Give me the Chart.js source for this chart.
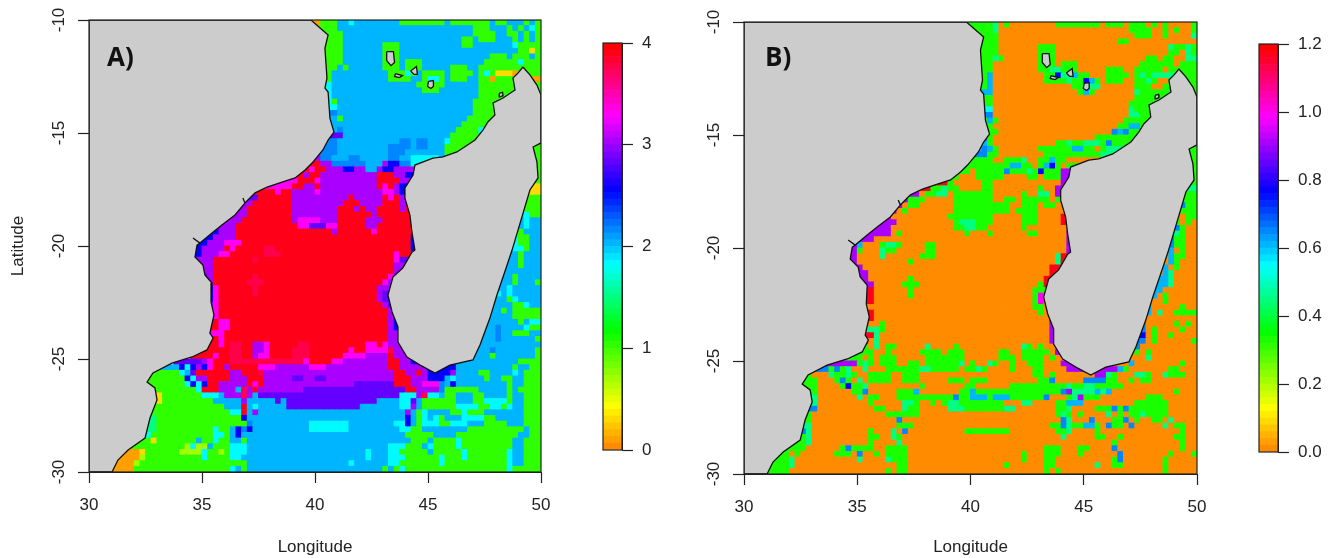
<!DOCTYPE html>
<html>
<head>
<meta charset="utf-8">
<title>Mozambique Channel maps</title>
<script src="https://cdn.jsdelivr.net/npm/chart.js@4"></script>
<style>
  html, body { margin: 0; background: #fff; width: 1330px; height: 558px; overflow: hidden; }
  canvas { position: absolute; top: 0; }
  .tag { position: absolute; font: bold 26px "Open Sans", sans-serif; color: #111; }
</style>
</head>
<body>
<canvas id="mapA" width="590" height="558" style="left:0"></canvas>
<canvas id="barA" width="75" height="558" style="left:590px"></canvas>
<canvas id="mapB" width="590" height="558" style="left:655px"></canvas>
<canvas id="barB" width="85" height="558" style="left:1245px"></canvas>
<div class="tag" style="left:107px;top:38px">A)</div>
<div class="tag" style="left:765px;top:38px">B)</div>
<script>
// Axis ticks
const lonTicks = [30, 35, 40, 45, 50];
const latTicks = [-30, -25, -20, -15, -10];

// Colour key: ramp stops and the range of each panel
const rampColors = [[255, 140, 0], [255, 255, 0], [0, 255, 0], [0, 255, 255], [0, 0, 255], [255, 0, 255], [255, 0, 0]];
const rampStops = [0, 0.10, 0.29, 0.455, 0.64, 0.825, 1];
const keyMaxA = 4;
const keyMaxB = 1.2;
const keyBins = 60;

// Value of each letter used in the rows below
const levelsA = { o: 0.1, y: 0.32, l: 0.68, g: 1.06, s: 1.5, c: 1.82, b: 2.0, d: 2.19, n: 2.56, v: 2.83, p: 3.02, m: 3.3, k: 3.74, r: 3.9 };
const levelsB = { o: 0, g: 0.33, s: 0.445, c: 0.546, b: 0.6, d: 0.656, n: 0.77, p: 0.907, m: 0.99, r: 1.17 };

// One string per 0.25 degree row, north to south. "38g" = green from column 38 until the next entry
const rowsA = [
  "38o 41g 44b 46c 47b 55g 63b 64g 71b 72g 74b 77g 78b 79g",
  "38g 44b 68g 71b 74g 75b 76g 77b 78c 79g",
  "38g 45b 68g 72b 74g 76b 77g 78b 79g",
  "38g 45b 66g 68b 69g 72b 75g 76b 77g 78b 79g",
  "38g 45b 52g 55b 66g 68b 75c 76g",
  "38g 45b 52g 55b 76g 78y 79g",
  "38g 45b 52g 55b 71g 74b 75g 78b 79g",
  "38g 45b 52g 55b 56g 59b 70g 76c 77g",
  "38g 44b 45g 46b 52g 55b 56g 59b 64g 67b 69g",
  "38g 43b 53g 56c 57g 58b 59g 63b 64g 68b 69g 70c 71g 72y 75o 76g",
  "38g 43b 53g 57b 59g 60c 62g 63b 64g 67b 69g 71o 72g 78o",
  "38g 42c 43b 58g 63b 69g",
  "38g 42c 43b 59g 62b 69g",
  "38c 43b 69g",
  "38c 43g 44b 68g",
  "38c 44b 68g",
  "38d 44b 68g",
  "38b 44g 45b 67g",
  "38b 45b 66g",
  "38b 44d 45b 65g 69c 71g",
  "38n 43v 45b 64g 69c 70g",
  "38n 42d 44b 55d 57b 58d 60b 63c 64g",
  "38d 44b 53d 57b 58d 60b 63g 79g",
  "38p 41d 44b 53d 56b 63g 79g",
  "37m 39p 41d 43b 46d 48b 53d 55b 57c 62b 79g",
  "36r 37m 39r 41p 43d 49b 52p 53n 55d 57c 79g",
  "34m 36r 39m 40r 42p 45n 47p 49b 51p 52n 54p 79g",
  "34r 38p 39r 41p 51r 54p 56n 79g",
  "32m 37r 40m 41p 51r 55p 57n 79g",
  "31m 36r 38p 40r 41p 51r 52m 53r 54p 55n 77y",
  "29r 33m 34r 36p 40m 41p 52m 54p 55n 77y",
  "28v 30r 36p 46r 47p 52r 53m 54r 55p 77g",
  "27p 29r 36p 45r 48p 52r 55p 77g",
  "26p 28r 36p 44r 47p 48r 49p 51r 55p 56r 77g",
  "25p 28r 36p 44r 50p 51r 76g 77c 78g",
  "24p 27r 36p 37m 41p 44r 49p 52r 76b 77c 78b",
  "23p 26r 37m 39v 42m 44r 49p 51r 75c 76b 77c 78b",
  "21n 23p 26r 39r 43p 44r 49r 50m 51r 75c 76g 77b",
  "20n 22p 26r 57n 75c 76g 78b",
  "19n 21p 24m 27r 57n 75c 76g 78b",
  "18n 20p 24r 25m 26r 31k 33r 57n 60b 75c 77g 78b",
  "18n 20p 23m 25r 31k 34r 54m 55r 60b 76g 77b",
  "19p 22r 29k 30r 54m 55v 60b 76g 77b",
  "19p 22r 54p 60b 75b 76g 77b",
  "20p 22r 54p 60b",
  "20v 21p 22r 29k 30r 53m 54p 60b 75g 76b",
  "20v 21p 22r 28k 31r 52m 53p 60b 75g 76b 79g",
  "20n 22m 23r 29k 30r 51p 60b 74c 75b",
  "21n 22m 23r 29k 30r 51p 52v 60b 72c 73b 74c 75b",
  "21n 22m 23r 51p 52v 60b 74g 75c 76b",
  "21p 22m 23r 52p 53v 60b 75g 77c 78b",
  "22m 23r 53p 60b 73g 74b 75g",
  "22m 23r 53p 54n 60b 75g 77g",
  "22r 23m 25r 53p 54n 60b 76g 77b 78c",
  "22r 23m 25r 53p 54n 60b 72d 73b 77c 78g",
  "22m 24r 53p 60b 72d 73b 75g 78b",
  "22r 23m 24r 53p 60b 72d 73b 79g",
  "22r 23m 24r 25k 27r 29p 31m 32r 37k 39r 49m 51r 52m 53p 60b",
  "22r 25k 27r 29p 31m 32r 36k 39r 46m 47r 49m 53k 54p 60b 71d 72b 79g",
  "21r 22m 23r 25k 27r 29p 30m 32r 36k 39r 45m 49p 53r 54p 60b 71g 72b 79g",
  "18v 20p 21m 22r 25k 38m 39r 43m 45p 53r 55p 57n 62b 76g",
  "14b 16n 17c 18n 19p 20n 21m 22r 24p 25r 30m 33p 39m 42p 53r 55p 60n 65b 75g 76b 78g",
  "12g 16c 17b 18v 19r 25p 27r 30k 31p 54r 56p 58r 59p 60n 64p 65b 69g 71b 75c 76b 77g",
  "12g 16g 17n 18c 19p 21r 25p 28r 31p 36v 38p 40v 42p 54r 57p 60n 63b 64c 65b 70g 71b 73g 75b 77g",
  "12g 17c 18n 19c 20n 21r 23p 28r 29m 30r 31p 41p 47v 54r 57p 59m 62d 63b 64n 65b 74g 75b 77g",
  "12g 19c 20r 23p 26b 27k 28p 29r 30p 38v 56r 58p 62d 63g 69b 74g 75b 76g 77g",
  "12y 13g 20c 23b 24p 27k 28p 29b 30v 55c 58p 59k 60c 62b 63g 65b 68g 70b 74g 75b 77g",
  "12y 13g 22b 27p 28b 33v 34b 35v 51b 55c 57v 58b 59g 65b 68g 70c 74g 75b 77g",
  "12g 22g 24b 27r 28b 29c 30b 35v 48b 55c 57p 58b 59g 65c 69g 71c 73g 74c 75b 77g",
  "12g 25c 27r 28b 29p 30b 56p 57b 58g 59c 60b 64g 66c 67g 70b 77g",
  "11s 12g 27n 28b 56n 57b 58g 59c 60b 61c 62g 63b 66c 70g 72b 77g",
  "11s 12g 27g 28d 29b 39c 46b 54c 56n 57b 58g 59c 62g 64c 67b 70g 74b 77g",
  "11s 12g 22c 23g 25b 26n 27d 28n 29b 39c 46b 55c 57g 59b 67g 77b 78g",
  "10c 11g 22c 24g 25b 26n 27b 56g 61b 65g 76b 78g",
  "10g 11y 12g 19b 20g 22c 23g 25b 27g 28b 57g 60b 61g 65c 66g 75b 77g",
  "9g 17l 18c 19l 21b 22g 25c 28b 53c 56g 59b 60c 61g 65c 66g 75b 77g",
  "7o 9y 10g 16l 20c 21g 23l 24g 25c 28b 49c 50b 53c 55g 60b 61g 66c 67g 74c 75b 77g",
  "6o 9l 10g 20c 21g 25c 27b 49c 50b 53c 56g 62c 63g 66c 67g 74c 75b 77g",
  "5o 8l 9g 25g 28b 46c 47b 53c 55g 62c 63g 74c 75b 77g",
  "4o 8g 25c 26b 27g 28b 52g 53b 54g 55c 56g 74c 75g"
];

const rowsB = [
  "38g 44s 45o 46g 47o 55g 63o 64g 67o 68g 71o 72g 73o 74g 75o 79g",
  "38g 44s 45o 68g 72o 74g 75o 76g 77o 79g",
  "38g 45o 69g 72o 74g 75o 79s",
  "38g 45o 66g 68o",
  "38g 45o 52g 55o 75s 76g 78s 79g",
  "38g 45o 52g 55o 75g 77o 78s 79g",
  "38g 44s 45g 46o 52g 55o 71g 73o 74g 76o 78s",
  "38g 44o 52g 55o 56g 59o 70g 76o 77g",
  "38g 44o 52g 54s 56g 59o 64g 67o 69g 74o 75g",
  "38g 43b 44o 53g 55n 56s 58b 59g 61o 64g 68o 69g 70s 71g 72s 74s 76g",
  "38g 43b 44o 53g 57s 58g 60n 61b 62g 63o 64g 67o 69g 71s 72g 73o 75g",
  "38g 43b 44o 58g 60s 63o 69g 72o 74g",
  "38b 44o 59g 60b 61g 62o 69s 70g",
  "38d 42g 44o 69g",
  "38d 42g 44o 68g",
  "38d 42c 44o 68s 69g",
  "38b 42d 44o 68s 70g",
  "38g 43b 44g 45o 67g",
  "38g 44o 66g 68b 70g",
  "38g 44g 45o 65d 66b 67d 68g",
  "38p 43g 44o 62g",
  "38d 41b 43g 44o 55g 57s 58g 60s 63g 64d 65g",
  "38b 42d 43b 44g 45o 52g 58b 60g 62o 63g 64s 78g",
  "38r 41d 43g 45o 53g 63s 78g",
  "36r 38g 44o 46g 49s 50o 52g 54b 55g 57o 78g",
  "36r 37g 47b 49g 51o 52g 53b 54n 55g 56o 57g 78g",
  "34r 38g 40o 41g 46d 47g 50s 51g 52n 53g 56p 78g",
  "36g 38o 41g 46o 50g 52o 53g 56p 78g",
  "35r 36g 37o 42g 44o 56p 78g",
  "31r 33g 35s 36g 38o 42g 44o 52g 53o 55p 77s",
  "29p 31o 32g 34s 36o 37g 44o 49g 50o 52s 54o 55p 77g",
  "28p 29g 32o 37g 44o 46g 48o 49g 54o 55g 56o 77g",
  "27p 28o 29g 31o 37g 47o 49g 52o 53g 55o 77d 78g",
  "25p 27o 28g 29o 37g 47o 48g 52o 77g",
  "24p 26o 36g 44o 49g 52o 56r 60o 76g 77o 78g",
  "24p 27o 37g 38s 41g 44o 49g 52o 56r 60o 76g 77o 78g 79o",
  "23p 26o 37g 39s 41g 43o 49g 50o 76d 77g 78o",
  "23p 26o 27g 28o 39g 40o 43g 44o 50g 52o 57p 60o 75d 76s 77g 78o",
  "21p 23o 57p 60o 75d 76g 78o",
  "19p 20b 21o 24g 25s 27g 28o 32g 34o 57p 60o 75d 76g 78o",
  "19p 20g 21o 24s 25g 27o 32g 34o 57p 60o 75b 76o 77g 78o",
  "19p 20o 24s 25o 31g 34o 55s 56r 60o 75b 76g 78o",
  "19p 20o 29g 30o 55s 56r 60o 75b 76g 77o",
  "20p 21o 54r 60o 74b 75o 76g 77o",
  "21p 22o 54r 60o 74b 75s 76o",
  "21p 22o 29g 30o 53r 55g 60o 73b 75s 76o",
  "21p 23o 28g 31o 52g 53r 60o 73b 75s 76o",
  "21p 22r 23o 29g 30o 51g 54o 72b 74o",
  "22r 23o 29g 30o 51g 52m 53o 72b 73o 74g 75o",
  "22r 23o 51g 52m 53o 71b 72o 74g 75o",
  "22o 51g 53o 71b 72o 77g 78o",
  "22r 23o 52g 53o 71b 72o 73s 74o 76g",
  "22r 23o 54p 60o",
  "22o 24g 25o 54p 60o 70d 71o 76g 77o 78g 79o",
  "23s 24g 25o 54p 60o 70d 71o 72g 73o 77g 78o",
  "22r 23s 24o 54p 60o 70n 71o 72g 73o 75g 76o",
  "21r 22o 23s 24o 54p 60o 69d 71o 72g 73o 79g",
  "21g 22o 23s 24o 25g 27o 32s 33o 37g 38o 49s 50g 51o 52g 53o 69d 70o",
  "21g 23o 25g 26o 31g 35o 36g 39o 45g 47o 49g 54o 55p 60o 69g 70o 71g 72o",
  "20g 21o 22g 23o 24g 27o 32g 39o 45g 48o 49g 53o 54g 55o 71s 72o",
  "16p 20g 21s 22g 23o 24g 27o 29g 31o 32g 38s 39o 40g 41o 43s 44g 45o 47g 48o 50g 53o 56p 62o 68b 69o 77g 78o",
  "12d 15g 16d 17g 18s 19o 21s 22o 25g 31s 33g 38o 39g 41s 42g 43o 47g 48o 51g 53o 57p 66b 67g 68o 75g 77o",
  "11g 12o 15s 16g 18s 19g 20o 22g 26o 28g 31o 51g 53o 54g 55o 62p 64s 65g 66o 69s 71g 72o 74s 75g 78o",
  "11g 13o 16g 17d 18g 19o 20s 21o 22g 26o 28g 31o 36g 39o 40g 43o 52g 54d 55o 60d 64g 66o 68g 69o 70g 72o",
  "11g 13o 17g 18n 19g 21s 22o 31g 32o 39g 41o 47g 57s 58g 60s 62g 67o",
  "12g 13o 19g 21d 22o 27g 30b 31o 38g 40b 41g 56d 57p 58s 62b 63s 64b 65o 76g 77o",
  "11d 12s 13o 20s 21o 22g 24o 27g 37d 38g 40b 43g 44b 47g 53d 54o 57g 58s 59p 60g 63o 71g 74o",
  "12s 13o 22g 23o 28s 30g 31o 33g 34o 35g 36s 38g 46o 49s 51o 55g 57b 60o 69g 75o",
  "12d 13o 23g 25o 28s 29g 31o 36s 39g 46s 48o 55g 57s 58o 62g 65d 66g 67d 68g 75o",
  "11g 12o 25g 31o 55g 56s 57g 58o 59g 60o 64s 65o 66g 67o 68g 70s 71g 75o",
  "11g 12o 27d 28o 56d 57s 58o 61d 62o 65g 67d 68o 69g 70o 72g 74o 75s 76o",
  "11s 12o 27g 30o 54g 56d 57s 58g 60b 62g 63o 64d 65g 67o 68d 69o 74s 75o 76g 78o",
  "10d 11s 12o 22g 23o 26s 27o 28d 29o 39g 47o 55g 57s 58o 62g 63o 77g 78o",
  "10g 11s 12o 22g 24o 26s 27g 28o 56s 57o 62g 64o 66g 67o 76g 78o",
  "10g 11s 12o 22g 23o 27s 28o 65g 66o 77g 78o",
  "9g 11o 17g 18d 19g 23o 25g 29o 53g 56o 59g 61o 65d 66o 77g 78o",
  "7g 8o 9g 10o 16g 19o 20d 21o 23g 24o 25g 29o 49g 50o 53g 56o 59g 60o 66d 67o 75g 76o 79g",
  "6g 8s 9o 20s 21o 25s 26g 29o 49g 50o 53g 55o 65g 66d 67o 74g 75o",
  "5g 8s 9o 27g 29o 46g 47o 53g 55o 62s 63o 65g 67o 74g 75o",
  "4g 8o 25g 26o 27g 29o 53g 54o 55g 56o 74g 75o"
];

// Coastlines as [lon, lat]
const africaCoast = [[39.82,-10],[40.58,-10.66],[40.44,-11.24],[40.53,-12.57],[40.44,-13.01],[40.58,-13.19],[40.66,-14.34],[40.84,-14.96],[40.58,-15.31],[40.35,-15.75],[39.87,-16.33],[39.56,-16.64],[39.12,-16.99],[38.54,-17.17],[37.88,-17.39],[37.35,-17.65],[36.9,-18.1],[36.81,-17.88],[36.9,-18.1],[36.46,-18.63],[35.88,-19.07],[35.44,-19.42],[34.91,-19.87],[34.6,-19.65],[34.91,-19.87],[34.78,-19.96],[34.69,-20.49],[35.04,-20.84],[35.13,-21.28],[35.44,-21.64],[35.4,-22.48],[35.53,-23.05],[35.35,-23.85],[35.49,-24.07],[35.22,-24.6],[34.56,-24.91],[33.67,-25.18],[32.83,-25.62],[32.57,-26.02],[32.92,-26.28],[33.01,-26.81],[32.7,-27.61],[32.48,-28.5],[31.73,-29.03],[31.28,-29.47],[31.02,-30],[30,-30],[30,-10],[39.82,-10]];
const madagascarCoast = [[49.2,-12.08],[48.98,-12.35],[48.76,-12.57],[48.85,-13.1],[48.32,-13.45],[47.88,-13.67],[47.96,-14.2],[47.65,-14.51],[47.43,-14.87],[47.08,-15.31],[46.28,-15.84],[45.66,-16.06],[45.22,-16.11],[44.42,-16.42],[44.34,-16.86],[43.98,-17.43],[43.98,-17.88],[44.2,-18.63],[44.29,-19.38],[44.42,-20.18],[44.29,-20.27],[43.89,-20.97],[43.45,-21.37],[43.23,-22.17],[43.41,-22.92],[43.67,-23.58],[43.67,-24.25],[44.07,-24.91],[44.65,-25.27],[45.31,-25.62],[45.97,-25.27],[46.99,-25.04],[47.3,-24.38],[47.74,-23.19],[48.05,-22.17],[48.5,-20.84],[48.72,-20.18],[49.51,-17.52],[49.87,-16.99],[49.82,-16.28],[49.65,-15.62],[50,-15.44],[50,-13.32],[49.82,-12.88],[49.51,-12.43],[49.2,-12.08]];
const grandeComore = [[43.17,-11.4],[43.47,-11.4],[43.52,-11.88],[43.36,-12.02],[43.17,-11.79],[43.17,-11.4]];
const moheli = [[43.56,-12.37],[43.87,-12.46],[43.74,-12.55],[43.52,-12.5],[43.56,-12.37]];
const anjouan = [[44.23,-12.26],[44.49,-12.06],[44.53,-12.41],[44.38,-12.41],[44.23,-12.26]];
const mayotte = [[45.02,-12.72],[45.24,-12.68],[45.24,-12.94],[45.13,-13.03],[44.98,-12.94],[45.02,-12.72]];
const nosyBe = [[48.15,-13.25],[48.3,-13.2],[48.32,-13.35],[48.18,-13.4],[48.15,-13.25]];
const landShapes = [africaCoast, madagascarCoast, grandeComore, moheli, anjouan, mayotte, nosyBe];

const inkColor = '#222';
const axisFont = { family: '"Liberation Sans", Arial, sans-serif', size: 17 };

function rampColor(frac) {
    let i = 0;
    while (i < rampStops.length - 2 && frac > rampStops[i + 1]) i++;
    const t = (frac - rampStops[i]) / (rampStops[i + 1] - rampStops[i]);
    const a = rampColors[i], b = rampColors[i + 1];
    const mix = k => Math.round(a[k] + (b[k] - a[k]) * t);
    return `rgb(${mix(0)},${mix(1)},${mix(2)})`;
}

function binColor(value, max) {
    const bin = Math.min(keyBins - 1, Math.floor(value / max * keyBins));
    return rampColor(bin / (keyBins - 1));
}

// Expand the rows into one point per ocean cell.
// The first run of a row starts a few columns early, those cells sit under the land fill
function rowsToCells(rows, levels) {
    const cells = [];
    rows.forEach((row, r) => {
        const tokens = row.split(' ').map(t => [parseInt(t, 10), levels[t.slice(-1)]]);
        tokens.forEach((tok, i) => {
            const start = i === 0 ? Math.max(0, tok[0] - 3) : tok[0];
            const end = i + 1 < tokens.length ? tokens[i + 1][0] : 80;
            for (let c = start; c < end; c++) {
                cells.push({ x: 30 + (c + 0.5) * 0.25, y: -10 - (r + 0.5) * 0.25, v: tok[1] });
            }
        });
    });
    return cells;
}

function drawFrame(chart) {
    const { ctx, chartArea: a } = chart;
    ctx.save();
    ctx.strokeStyle = inkColor;
    ctx.lineWidth = 1.2;
    ctx.strokeRect(a.left, a.top, a.right - a.left, a.bottom - a.top);
    ctx.restore();
}

function makeMap(id, rows, levels, max, frame, latitudeTitle) {
    const land = landShapes.map(shape => ({
        data: shape.map(p => ({ x: p[0], y: p[1] })),
        showLine: true,
        fill: 'shape',
        backgroundColor: '#cccccc',
        borderColor: '#111',
        borderWidth: 1.3,
        tension: 0,
        pointRadius: 0,
        clip: 0
    }));
    const cells = {
        data: rowsToCells(rows, levels),
        pointStyle: 'rect',
        pointRadius: 4.6,
        pointBorderWidth: 0,
        pointBackgroundColor: c => binColor(c.raw.v, max),
        clip: 0
    };
    return new Chart(document.getElementById(id), {
        type: 'scatter',
        data: { datasets: [...land, cells] },
        options: {
            responsive: false,
            animation: false,
            events: [],
            layout: { padding: { left: 0, top: frame.top, right: frame.right, bottom: 0 } },
            plugins: { legend: { display: false }, tooltip: { enabled: false } },
            scales: {
                x: {
                    type: 'linear', min: 30, max: 50,
                    afterBuildTicks: s => { s.ticks = lonTicks.map(v => ({ value: v })); },
                    afterFit: s => { s.height = frame.bottom; },
                    grid: { drawOnChartArea: false, tickLength: 11, tickColor: inkColor, tickWidth: 1.2 },
                    border: { color: inkColor },
                    ticks: { color: inkColor, font: axisFont, padding: 12, maxRotation: 0 },
                    title: { display: true, text: 'Longitude', color: inkColor, font: axisFont, padding: { top: 0, bottom: 0 } }
                },
                y: {
                    type: 'linear', min: -30, max: -10,
                    afterBuildTicks: s => { s.ticks = latTicks.map(v => ({ value: v })); },
                    afterFit: s => { s.width = frame.left; },
                    grid: { drawOnChartArea: false, tickLength: 11, tickColor: inkColor, tickWidth: 1.2 },
                    border: { color: inkColor },
                    ticks: { color: inkColor, font: axisFont, padding: 6, minRotation: 90, maxRotation: 90, crossAlign: 'center' },
                    title: { display: latitudeTitle, text: 'Latitude', color: inkColor, font: axisFont, padding: { top: 8, bottom: 0 } }
                }
            }
        },
        plugins: [{ id: 'frame', afterDraw: drawFrame }]
    });
}

function makeKey(id, max, step, digits, frame) {
    const datasets = [];
    for (let i = 0; i < keyBins; i++) {
        const lo = max * i / keyBins, hi = max * (i + 1) / keyBins;
        datasets.push({
            data: [[lo, hi]],
            backgroundColor: rampColor(i / (keyBins - 1)),
            borderWidth: 0,
            barPercentage: 1,
            categoryPercentage: 1
        });
    }
    return new Chart(document.getElementById(id), {
        type: 'bar',
        data: { labels: ['key'], datasets },
        options: {
            responsive: false,
            animation: false,
            events: [],
            layout: { padding: { left: frame.left, top: frame.top, right: 0, bottom: frame.bottom } },
            plugins: { legend: { display: false }, tooltip: { enabled: false } },
            scales: {
                x: { stacked: true, display: false },
                y: {
                    position: 'right', min: 0, max,
                    afterFit: s => { s.width = frame.axis; },
                    grid: { drawOnChartArea: false, tickLength: 11, tickColor: inkColor, tickWidth: 1.2 },
                    border: { color: inkColor },
                    ticks: { stepSize: step, color: inkColor, font: axisFont, padding: 9, callback: v => v.toFixed(digits) }
                }
            }
        },
        plugins: [{ id: 'frame', afterDraw: drawFrame }]
    });
}

makeMap('mapA', rowsA, levelsA, keyMaxA, { left: 89, top: 20, right: 49, bottom: 86 }, true);
makeMap('mapB', rowsB, levelsB, keyMaxB, { left: 89, top: 22, right: 48, bottom: 84 }, false);
makeKey('barA', keyMaxA, 1, 0, { left: 13, top: 43, bottom: 108, axis: 43 });
makeKey('barB', keyMaxB, 0.2, 1, { left: 14, top: 44, bottom: 106, axis: 52 });
</script>
</body>
</html>
